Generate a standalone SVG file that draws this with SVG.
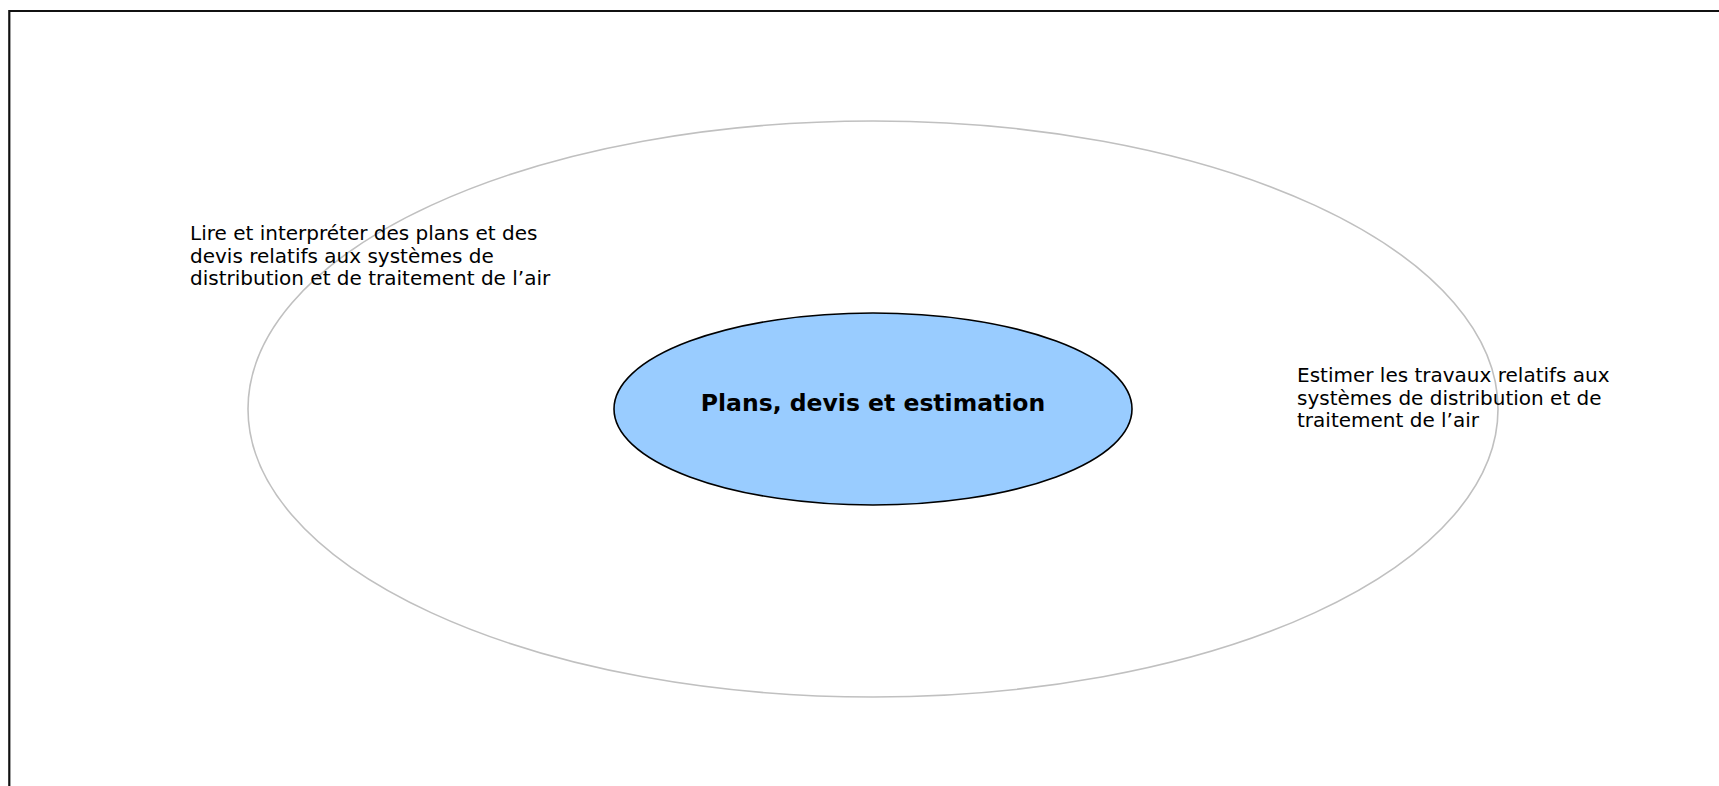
<svg xmlns="http://www.w3.org/2000/svg" width="1719" height="786" viewBox="0 0 1719 786">
<style>
.lbl{font-family:"DejaVu Sans","Liberation Sans",sans-serif;font-size:20px;fill:#000}
.ctr{font-family:"DejaVu Sans","Liberation Sans",sans-serif;font-size:23.5px;font-weight:bold;fill:#000}
</style>
<rect width="1719" height="786" fill="#fff"/>
<path d="M1719 11 H9.3 V786" fill="none" stroke="#111" stroke-width="2.2"/>
<g id="outer-ring">
<ellipse cx="873" cy="409" rx="625" ry="288" fill="none" stroke="#c0c0c0" stroke-width="1.6"/>
</g>
<g id="center-node">
<ellipse cx="873" cy="409" rx="259" ry="96" fill="#99ccff" stroke="#000" stroke-width="1.6"/>
<text class="ctr" x="873" y="411" text-anchor="middle">Plans, devis et estimation</text>
</g>
<g id="label-left">
<text class="lbl" x="190" y="240">Lire et interpréter des plans et des</text>
<text class="lbl" x="190" y="262.5">devis relatifs aux systèmes de</text>
<text class="lbl" x="190" y="285">distribution et de traitement de l’air</text>
</g>
<g id="label-right">
<text class="lbl" x="1297" y="382">Estimer les travaux relatifs aux</text>
<text class="lbl" x="1297" y="404.5">systèmes de distribution et de</text>
<text class="lbl" x="1297" y="427">traitement de l’air</text>
</g>
<g id="connectors"/>
</svg>
